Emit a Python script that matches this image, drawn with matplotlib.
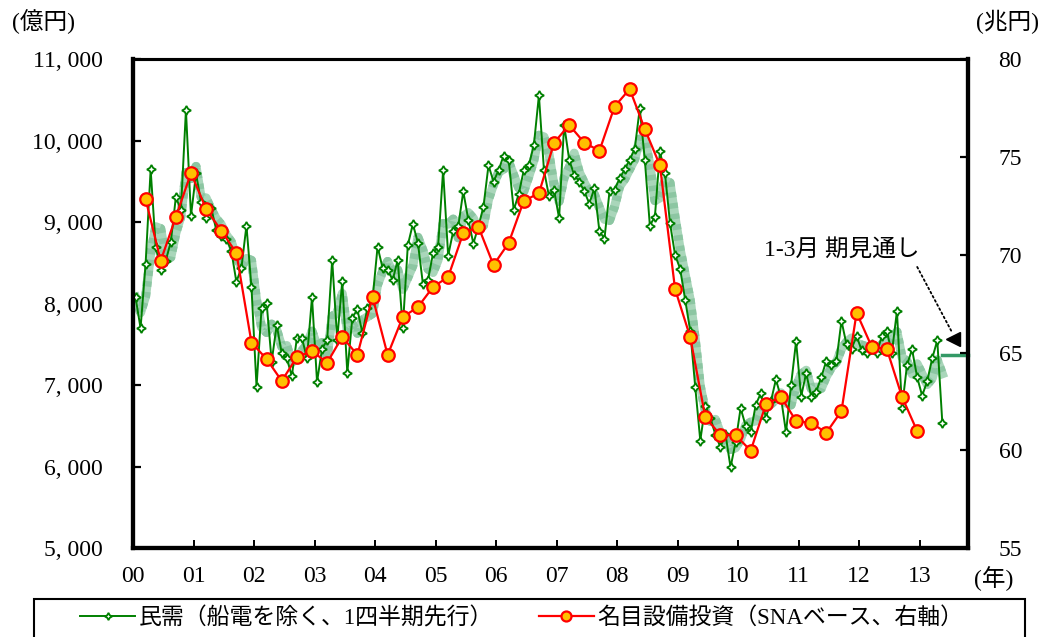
import matplotlib.pyplot as plt
import numpy as np
import pandas as pd

plt.rcParams['font.family'] = ['Liberation Serif', 'Noto Sans CJK JP']

# 民需（船電を除く、1四半期先行） monthly, 億円 (2000/01 ~ 2013/05 on chart)
minju = [8080, 7700, 8490, 9650, 8700, 8420, 8530, 8760, 9310, 9150, 10380, 9080,
         9600, 9250, 9050, 9180, 8910, 8830, 8800, 8650, 8270, 8440, 8960, 8200,
         6980, 7950, 8010, 7290, 7740, 7390, 7330, 7110, 7580, 7580, 7330, 8080,
         7040, 7450, 7550, 8540, 7560, 8280, 7150, 7830, 7930, 7640, 7950, 8050,
         8700, 8440, 8420, 8290, 8540, 7700, 8720, 8980, 8750, 8240, 8290, 8620,
         8700, 9640, 8590, 8890, 8950, 9380, 9030, 8740, 8950, 9190, 9700, 9500,
         9640, 9820, 9770, 9150, 9350, 9640, 9700, 9950, 10560, 9640, 9320, 9400,
         9050, 10200, 9770, 9580, 9500, 9380, 9230, 9420, 8890, 8800, 9380, 9400,
         9540, 9650, 9770, 9900, 10400, 9770, 8960, 9070, 9870, 9600, 8990, 8600,
         8430, 8050, 7670, 6980, 6320, 6750, 6600, 6390, 6240, 6400, 5990, 6300,
         6720, 6500, 6420, 6760, 6900, 6600, 6800, 7070, 6850, 6420, 7000, 7540,
         6860, 7150, 6860, 6920, 7100, 7300, 7250, 7300, 7790, 7500, 7450, 7600,
         7430, 7390, 7500, 7400, 7600, 7660, 7400, 7910, 6720, 7250, 7440, 7100,
         6870, 7050, 7330, 7550, 6540]

# 名目設備投資（SNAベース） quarterly, 兆円 (2000Q1 ~ 2012Q4)
capex = [72.86, 69.70, 71.94, 74.19, 72.35, 71.24, 70.10, 65.51, 64.67, 63.55,
         64.77, 65.08, 64.48, 65.81, 64.88, 67.86, 64.88, 66.82, 67.33, 68.36,
         68.87, 71.12, 71.44, 69.48, 70.61, 72.77, 73.15, 75.74, 76.65, 75.74,
         75.33, 77.59, 78.49, 76.44, 74.58, 68.25, 65.80, 61.69, 60.78, 60.78,
         59.98, 62.35, 62.74, 61.50, 61.40, 60.90, 62.01, 67.04, 65.30, 65.18,
         62.74, 60.99]

outlook = 7370  # 1-3月期見通し（億円）

year_labels = ['00', '01', '02', '03', '04', '05', '06', '07', '08', '09',
               '10', '11', '12', '13']

x_m = 2000 + (np.arange(len(minju)) + 0.5) / 12
x_q = 2000 + (np.arange(len(capex)) * 3 + 2.5) / 12
ma3 = pd.Series(minju).rolling(3, min_periods=1).mean()

fig = plt.figure(figsize=(10.48, 6.37), dpi=100)
ax = fig.add_axes([0.1269, 0.1397, 0.7968, 0.7669])
ax2 = ax.twinx()

# 3ヶ月移動平均 (thick textured band)
ax.plot(x_m, ma3, color='#a9d6ba', lw=6.5, zorder=2, solid_joinstyle='round')
ax.plot(x_m, ma3, color='#8cc6a2', lw=6.5, ls=(0, (0.6, 0.6)), zorder=2)
ln1, = ax.plot(x_m, minju, color='#008000', lw=1.4, marker=(4, 1, 0), ms=6.5,
               mfc='white', mec='#008000', mew=1.3, zorder=3)
ln2, = ax2.plot(x_q, capex, color='red', lw=1.6, marker='o', ms=9,
                mfc='#ffc000', mec='red', mew=1.6, zorder=4)

# outlook line
ax.plot([x_m[-1], 2013.8], [outlook, outlook], color='#339966', lw=2.5,
        zorder=3, clip_on=False)
ax.text(2011.72, 8661, '1-3月 期見通し', fontsize=17, ha='center', va='center')
ax.annotate('', xy=(2013.53, 7657), xytext=(2012.96, 8452),
            arrowprops=dict(arrowstyle='-', ls=(0, (1, 1.6)), lw=1.3,
                            color='black', shrinkA=0, shrinkB=0))
ax.plot([2013.545], [7564], marker='<', ms=10, color='black', zorder=5)

ax.set_xlim(2000, 2013.8)
ax.set_ylim(5000, 11000)
ax2.set_ylim(55, 80)

ax.set_xticks(np.arange(2000, 2014))
ax.set_xticklabels(year_labels)
yt = np.arange(5000, 11001, 1000)
ax.set_yticks(yt)
ax.set_yticklabels([f'{v:,}'.replace(',', ', ') for v in yt])
ax2.set_yticks(np.arange(55, 81, 5))

ax.tick_params(axis='y', direction='in', length=6, width=1.6, pad=22, labelsize=17)
ax.tick_params(axis='x', direction='in', length=6, width=1.4, pad=13, labelsize=17)
ax2.tick_params(axis='y', direction='in', length=6, width=1.6, pad=22, labelsize=17)

for a in (ax, ax2):
    for s in ('left', 'right', 'bottom'):
        a.spines[s].set_linewidth(3)
    a.spines['top'].set_linewidth(2.2)

fig.text(12 / 1048, 1 - 22 / 637, '(億円)', fontsize=17, va='center', ha='left')
fig.text(976 / 1048, 1 - 22 / 637, '(兆円)', fontsize=17, va='center', ha='left')
fig.text(974 / 1048, 1 - 579 / 637, '(年)', fontsize=17, va='center', ha='left')

# legend (frame continues below figure edge)
fig.legend([ln1, ln2], ['民需（船電を除く、1四半期先行）', '名目設備投資（SNAベース、右軸）'],
           loc='upper left', bbox_to_anchor=(80 / 1048, 1 - 607 / 637), ncol=2,
           frameon=False, fontsize=16.5, handlelength=2.4, handletextpad=0.15,
           columnspacing=2.0, borderpad=0, borderaxespad=0, markerscale=0.8)
fig.add_artist(plt.Rectangle((34 / 1048, -0.1), (1025 - 34) / 1048, 0.1 + 1 - 599 / 637,
                             transform=fig.transFigure, fill=False, ec='black', lw=1.5))

fig.savefig('out.png', dpi=100)
